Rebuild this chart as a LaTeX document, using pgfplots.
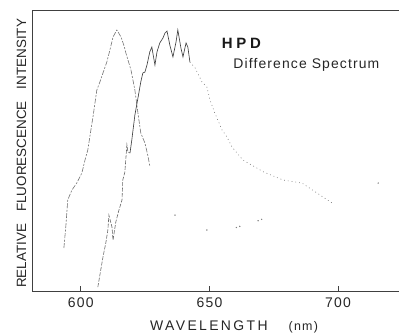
\documentclass[border=0pt]{standalone}
\usepackage{pgfplots}
\pgfplotsset{compat=1.18}
\usepackage{fontspec}
\setmainfont{Liberation Sans}
\begin{document}
\begin{tikzpicture}
\useasboundingbox (-32bp,-42bp) rectangle (367bp,291bp);
\begin{axis}[
  scale only axis, width=367bp, height=281bp,
  xmin=581, xmax=723.7, ymin=0, ymax=100,
  axis x line=box, axis y line=left,
  axis line style={-, black!75, line width=0.8pt},
  xtick={600,650,700}, xtick pos=bottom, ytick=\empty,
  tick align=inside, major tick length=5bp,
  tick style={black!75, line width=0.8pt},
  /pgf/number format/assume math mode=true,
  /pgf/number format/1000 sep={},
  xticklabel style={font=\fontsize{14}{14}\selectfont\addfontfeature{LetterSpace=9}, anchor=center, yshift=-12bp, text=black!85},
  xlabel={\addfontfeature{LetterSpace=17}WAVELENGTH\hspace{21bp}{\fontsize{12.5}{12.5}\selectfont\addfontfeature{LetterSpace=10}(nm)}},
  xlabel style={at={(axis description cs:0.3215,-0.140)}, anchor=base west, inner sep=0pt, font=\fontsize{14}{14}\selectfont, text=black!85},
  ylabel={RELATIVE\hspace{12bp}FLUORESCENCE\hspace{12bp}INTENSITY},
  ylabel style={at={(axis description cs:-0.0163,0.0107)}, anchor=base west, inner sep=0pt, rotate=0, font=\fontsize{13.5}{13.5}\selectfont, text=black!85},
  clip=false,
]
% curve 1: HPD spectrum (left peak)
\addplot[black!55, line width=0.6pt, dash pattern=on 5pt off 1.5pt on 2pt off 1.5pt] coordinates {
(593.4,15.3)(594.2,23.5)(594.9,32.4)(596.5,35.9)(598.4,38.4)(600.4,42.0)(601.6,46.6)(602.7,50.2)
(603.9,57.3)(604.7,61.9)(606.2,71.5)(607.4,74.4)(608.6,77.6)(610.1,81.5)(611.3,85.8)(612.5,90.4)
(614.0,92.9)(615.6,90.4)(616.7,87.5)(617.5,84.7)(619.5,78.6)(621.0,71.5)(622.2,63.3)(623.3,56.2)
(624.9,52.7)(626.1,48.0)(626.8,44.5)
};
% curve 2: difference spectrum, rising part
\addplot[black!60, line width=0.6pt, dash pattern=on 4pt off 1.5pt] coordinates {
(606.6,1.4)(607.4,5.7)(608.6,12.1)(609.7,17.1)(610.5,21.7)(610.9,27.0)(612.1,22.8)(612.5,18.1)
(613.6,24.6)(614.8,28.8)(616.0,32.4)(616.3,39.5)(617.1,42.3)(617.9,52.0)(618.3,49.5)(619.1,49.1)
};
% curve 2: main part
\addplot[black!75, line width=0.65pt] coordinates {
(619.1,49.1)(619.8,53.7)(621.0,62.6)(622.2,68.7)(623.3,74.4)(624.1,77.6)(624.9,77.9)(625.7,80.4)
(626.8,85.1)(627.6,86.8)(628.8,80.4)(629.6,85.1)(630.7,88.3)(631.9,90.0)(632.7,91.8)(633.5,92.5)
(634.6,87.5)(635.8,83.3)(637.0,88.6)(637.7,92.9)(638.9,86.5)(639.7,83.3)(640.9,88.3)(641.6,86.8)
(642.4,81.5)
};
% curve 2: tail (dotted)
\addplot[black!55, line width=0.6pt, dash pattern=on 0.8pt off 3pt] coordinates {
(642.4,81.5)(644.4,79.4)(647.1,74.4)(649.0,72.6)(650.2,68.0)(652.1,63.3)(654.9,57.3)(656.8,54.8)
(658.8,51.2)(663.0,46.6)(671.2,42.3)(678.6,39.5)(686.0,38.4)(697.7,31.3)
};
% scattered lower points
\addplot[only marks, mark=*, mark size=0.45pt, black!50] coordinates {
(636.6,27.0)(649.0,21.7)(660.5,22.6)(661.8,23.0)(668.9,25.0)(670.3,25.5)(715.6,38.4)
};
\node[anchor=base west, inner sep=0pt, font=\fontsize{15}{15}\selectfont\bfseries\addfontfeature{LetterSpace=25}, text=black!90] at (rel axis cs:0.517,0.864) {HPD};
\node[anchor=base west, inner sep=0pt, font=\fontsize{14}{14}\selectfont\addfontfeature{LetterSpace=8}, text=black!85] at (rel axis cs:0.5485,0.7925) {Difference Spectrum};
\end{axis}
\end{tikzpicture}
\end{document}
